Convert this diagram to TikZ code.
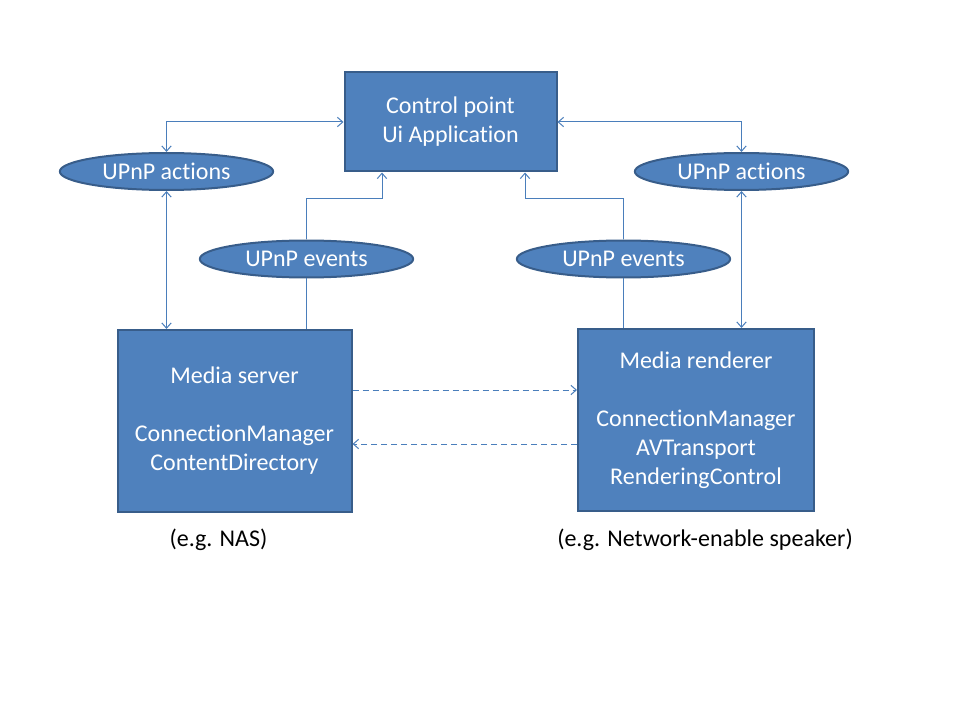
\documentclass[tikz,border=0pt]{standalone}
\usepackage{fontspec}
\setmainfont{Carlito}[Ligatures=NoCommon]
\usetikzlibrary{arrows.meta,shapes.geometric}
\definecolor{boxfill}{HTML}{4F81BD}
\definecolor{boxline}{HTML}{385D8A}
\definecolor{conn}{HTML}{4A7EBB}
\begin{document}
\begin{tikzpicture}[x=0.75pt,y=-0.75pt,
  every node/.style={font=\fontsize{18}{21.75}\selectfont},
  bluebox/.style={rectangle,draw=boxline,fill=boxfill,line width=1.5pt,text=white,align=center,inner sep=0pt},
  blueell/.style={ellipse,draw=boxline,fill=boxfill,line width=1.5pt,text=white,inner sep=0pt,minimum width=160pt,minimum height=27.75pt},
  conline/.style={draw=conn,line width=0.75pt},
  tip/.style={conline,arrows={-Straight Barb[length=4pt,width=7pt]}},
  bitip/.style={conline,arrows={Straight Barb[length=4pt,width=7pt]-Straight Barb[length=4pt,width=7pt]}},
  dashline/.style={tip,dash pattern=on 4.5pt off 3pt}]
\useasboundingbox (0,0) rectangle (960,720);
\fill[white] (0,0) rectangle (960,720);

\coordinate (j1) at (382,199);
\coordinate (j2) at (525,199);

\node[bluebox,minimum width=159pt,minimum height=74.25pt] (cp) at (450.5,122) {\raisebox{-1.5pt}{\begin{tabular}{@{}c@{}}Control point\\Ui Application\end{tabular}}};
\node[blueell] (la) at (166.5,171.5) {UPnP actions};
\node[blueell] (ra) at (741.5,171.5) {UPnP actions};
\node[blueell] (le) at (306.5,259) {UPnP events};
\node[blueell] (re) at (623.5,259) {UPnP events};
\node[bluebox,minimum width=175.5pt,minimum height=136.5pt] (ms) at (234.5,421) {Media server\\[21.75pt]ConnectionManager\\ContentDirectory};
\node[bluebox,minimum width=177pt,minimum height=136.5pt] (mr) at (696,420) {Media renderer\\[21.75pt]ConnectionManager\\AVTransport\\RenderingControl};

\node (l1) at (218.5,540) {(e.g. NAS)};
\node (l2) at (705,540) {(e.g. Network-enable speaker)};

% actions
\draw[bitip] (la.north) |- (cp.west);
\draw[bitip] (la.south) -- (la.south |- ms.north);
\draw[bitip] (ra.north) |- (cp.east);
\draw[bitip] (ra.south) -- (ra.south |- mr.north);

% events
\draw[conline] (le.south |- ms.north) -- (le.south);
\draw[tip] (le.north) |- (j1) -- (j1 |- cp.south);
\draw[conline] (re.south |- mr.north) -- (re.south);
\draw[tip] (re.north) |- (j2) -- (j2 |- cp.south);

% dashed data flow
\draw[dashline] (ms.east |- 0,390) -- (mr.west |- 0,390);
\draw[dashline] (mr.west |- 0,444) -- (ms.east |- 0,444);
\end{tikzpicture}
\end{document}
